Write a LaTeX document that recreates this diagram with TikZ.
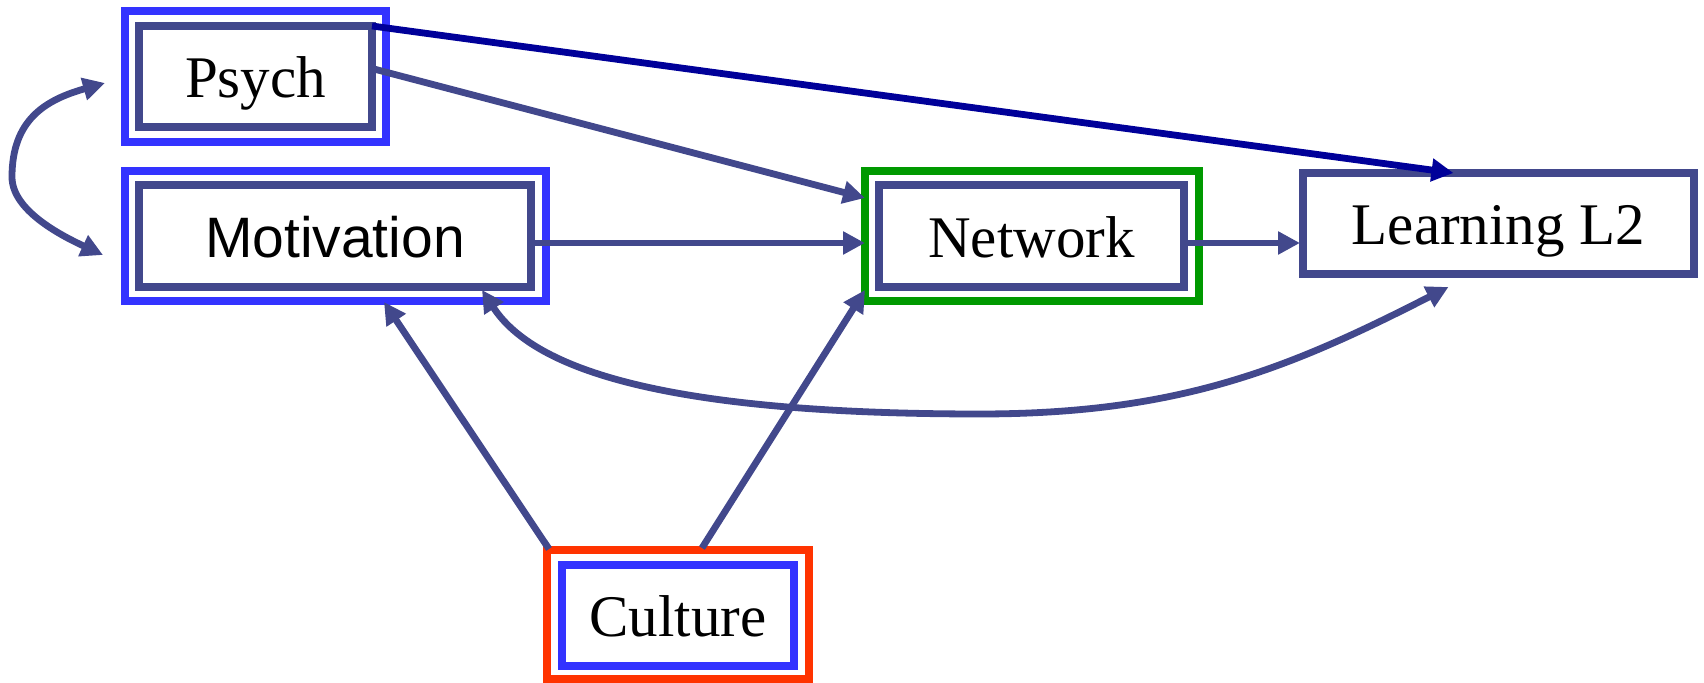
\documentclass[tikz,border=0pt]{standalone}
\usepackage{fontspec}
\setmainfont{Liberation Serif}
\newfontfamily\arialfont{Liberation Sans}
\usetikzlibrary{arrows.meta,calc}
\definecolor{slate}{RGB}{66,72,140}
\definecolor{brightblue}{RGB}{51,51,255}
\definecolor{navyline}{RGB}{0,0,153}
\definecolor{boxgreen}{RGB}{0,153,0}
\definecolor{boxred}{RGB}{255,51,0}
\begin{document}
\begin{tikzpicture}[x=0.5pt,y=-0.5pt,
  frame/.style={draw, line width=4pt, inner sep=0pt, outer sep=0pt, rectangle},
  label/.style={frame, draw=slate, font=\fontsize{29.5}{30}\selectfont, text height=21.5pt, text depth=0pt},
  head/.tip={Triangle[length=11pt,width=11pt]},
  tip/.style={-head},
  link/.style={draw=slate, line width=3.4pt, tip},
  both/.style={draw=slate, line width=3.4pt, head-head}
]
\useasboundingbox (0,0) rectangle (1704,683);

% Psych
\node[frame, draw=brightblue, minimum width=130.5pt, minimum height=65.5pt] (pout) at (255.5,76.5) {};
\node[label, minimum width=116.5pt, minimum height=50.5pt] (pin) at (255.5,76.5) {Psych};

% Motivation
\node[frame, draw=brightblue, minimum width=210.5pt, minimum height=65pt] (mout) at (335.5,236) {};
\node[label, font=\arialfont\fontsize{28.5}{30}\selectfont, minimum width=196pt, minimum height=51pt] (min) at (335,236) {Motivation};

% Network
\node[frame, draw=boxgreen, minimum width=167pt, minimum height=65pt] (nout) at (1032,236) {};
\node[label, minimum width=152.5pt, minimum height=51pt] (nin) at (1031.5,236) {Network};

% Learning L2
\node[label, line width=3.8pt, minimum width=195.5pt, minimum height=50.5pt] (learn) at (1498.5,223.5) {Learning L2};

% Culture
\node[frame, draw=boxred, minimum width=131pt, minimum height=64.5pt] (cout) at (678,614.5) {};
\node[label, draw=brightblue, minimum width=116pt, minimum height=50.5pt] (cin) at (678,615.5) {Culture};

% connectors
\draw[draw=navyline, line width=3.4pt, tip] (pin.north east) -- ($(learn.north)+(-45,0)$);
\draw[link] ($(pin.east)+(0,-8)$) -- ($(nout.west)+(0,-38)$);
\draw[link] ($(min.east)+(0,7)$) -- ($(nout.west)+(0,7)$);
\draw[link] ($(nin.east)+(0,7)$) -- ($(learn.west)+(-3,19.5)$);
\draw[link] ($(cout.north west)+(2,-1)$) -- ($(mout.south)+(48.5,1)$);
\draw[link] ($(cout.north)+(24,-2)$) -- ($(nout.south west)+(0,-11)$);
\draw[both] ($(min.south)+(147,3)$) .. controls (531,365) and (650,414) .. (980,414)
  .. controls (1180,414) and (1290,368) .. ($(learn.south)+(-50,13)$);
\draw[both] ($(pout.west)+(-20,6.5)$) .. controls (45,100) and (12,120) .. (12,177)
  .. controls (12,210) and (60,235) .. ($(mout.west)+(-22,19)$);
\end{tikzpicture}
\end{document}
